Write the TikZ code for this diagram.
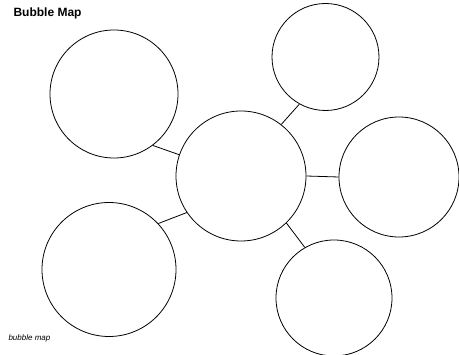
\documentclass[tikz,border=0pt]{standalone}
\usepackage{fontspec}
\setmainfont{Liberation Sans}
\usetikzlibrary{positioning}

\begin{document}
\begin{tikzpicture}[
  x=1pt, y=-1pt,
  bubble/.style={draw, circle, inner sep=0pt, line width=0.8pt},
  link/.style={line width=0.8pt}
]
\useasboundingbox (0,0) rectangle (459,355);

\node[anchor=base west, font=\bfseries\fontsize{12}{14}\selectfont] (title) at (10,17) {Bubble Map};
\node[anchor=base west, font=\itshape\fontsize{8}{10}\selectfont] (caption) at (5,341) {bubble map};

\node[bubble, minimum size=130pt] (hub) at (241,176) {};
\node[bubble, minimum size=128pt] (topleft) at (114,94) {};
\node[bubble, minimum size=107pt] (topright) at (325.5,57) {};
\node[bubble, minimum size=120pt] (right) at (399,177) {};
\node[bubble, minimum size=134pt] (botleft) at (109,269.5) {};
\node[bubble, minimum size=116pt] (botright) at (334,298) {};

\draw[link] (topleft.-53) -- (hub.161);
\draw[link] (topright.-119) -- (hub.52);
\draw[link] (hub.0) -- (right.180);
\draw[link] (botleft.43) -- (hub.214);
\draw[link] (hub.-46) -- (botright.120);

\end{tikzpicture}
\end{document}
